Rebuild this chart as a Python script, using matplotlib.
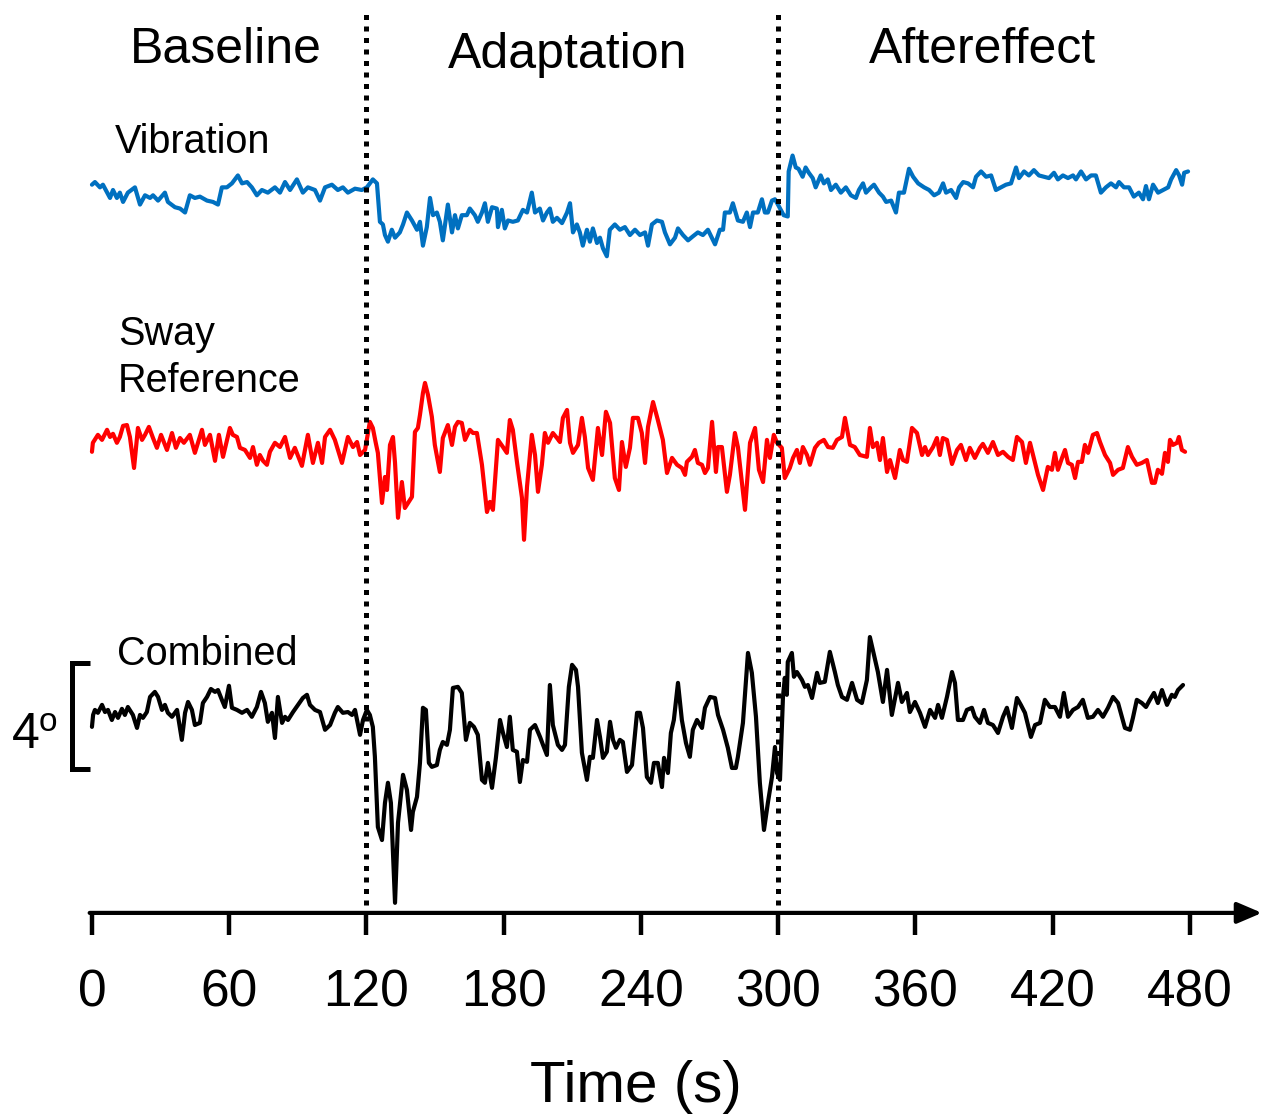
import matplotlib.pyplot as plt
import numpy as np

plt.rcParams['font.family'] = ['Liberation Sans', 'DejaVu Sans']

# sway angle traces, degrees about each trace's own mean, time in seconds
vib_time = [
    0, 1.3, 3.5, 4.8, 7.9, 9.2, 10.9, 12.2, 13.6, 15.7,
    18.8, 21.0, 23.2, 25.4, 26.7, 28.9, 31.9, 33.2, 36.3, 38.5,
    40.7, 42.8, 45.0, 47.2, 50.3, 52.9, 55.1, 56.8, 59.0, 61.2,
    63.8, 65.6, 67.8, 69.9, 72.1, 74.3, 76.9, 80.0, 82.2, 84.4,
    86.6, 89.6, 92.2, 94.4, 97.5, 99.7, 101.9, 104.9, 107.5, 109.7,
    111.9, 115.0, 118.0, 120.2, 122.8, 124.6, 125.9, 127.2, 128.1, 129.4,
    131.1, 132.5, 134.6, 136.0, 137.7, 139.9, 142.1, 143.4, 144.7, 146.4,
    147.8, 149.1, 150.8, 152.1, 153.4, 155.6, 157.4, 158.7, 160.0, 161.7,
    163.9, 165.2, 167.4, 168.7, 170.5, 171.8, 173.1, 174.9, 177.0, 177.5,
    179.2, 180.5, 181.9, 184.0, 186.2, 188.4, 190.2, 192.3, 193.7, 195.8,
    197.2, 198.9, 200.2, 201.5, 203.3, 205.5, 207.7, 209.0, 210.3, 212.0,
    213.3, 214.6, 216.4, 217.7, 219.0, 220.8, 222.1, 223.4, 225.1, 226.4,
    228.6, 230.8, 233.0, 235.2, 237.4, 239.6, 241.8, 243.1, 244.8, 247.0,
    249.2, 250.5, 252.7, 254.9, 256.2, 258.4, 260.6, 262.7, 264.9, 267.1,
    269.3, 272.4, 274.5, 275.9, 276.7, 278.9, 280.2, 282.4, 284.6, 286.3,
    287.7, 289.0, 291.1, 292.9, 294.2, 295.5, 297.3, 298.6, 299.9, 302.4,
    304.2, 304.6, 306.3, 307.7, 308.9, 310.7, 312.0, 313.4, 315.1, 316.4,
    318.6, 320.0, 321.7, 323.1, 325.2, 327.4, 329.6, 331.8, 334.0, 335.3,
    337.1, 338.4, 340.6, 341.9, 344.1, 345.8, 347.2, 349.4, 351.5, 352.8,
    355.0, 357.2, 359.0, 361.2, 363.8, 366.0, 368.2, 370.3, 372.1, 373.4,
    375.6, 377.8, 379.1, 380.9, 383.0, 385.2, 386.5, 388.7, 390.9, 393.1,
    395.2, 397.4, 399.6, 401.8, 404.0, 405.3, 407.5, 409.6, 411.8, 414.0,
    416.2, 418.4, 420.6, 422.3, 424.5, 426.7, 428.9, 430.2, 432.4, 434.6,
    436.8, 438.9, 441.1, 443.3, 445.5, 447.7, 449.0, 451.2, 453.4, 455.5,
    457.7, 459.5, 460.8, 462.1, 463.9, 466.1, 468.3, 470.5, 471.8, 474.0,
    475.3, 476.6, 477.5, 479.2]
vib_deg = [
    0.2, 0.3, 0.1, 0.2, -0.3, 0.0, -0.3, -0.1, -0.45, -0.1,
    0.1, -0.55, -0.2, -0.3, -0.2, -0.4, -0.1, -0.45, -0.65, -0.7,
    -0.85, -0.2, -0.3, -0.25, -0.4, -0.45, -0.55, 0.1, 0.1, 0.25,
    0.55, 0.25, 0.3, 0.1, -0.2, 0.0, -0.1, 0.1, -0.1, 0.3,
    0.0, 0.4, -0.1, 0.1, 0.0, -0.4, 0.1, 0.2, 0.0, 0.1,
    -0.1, 0.05, 0.0, 0.1, 0.4, 0.25, -1.2, -1.3, -1.7, -1.95,
    -1.5, -1.8, -1.6, -1.3, -0.85, -1.15, -1.5, -1.2, -2.1, -1.4,
    -0.3, -0.95, -0.85, -1.2, -1.9, -0.55, -1.6, -0.95, -1.45, -0.95,
    -0.95, -0.7, -0.95, -1.2, -0.85, -0.5, -1.2, -0.65, -0.7, -1.4,
    -0.75, -1.45, -1.15, -1.2, -1.15, -0.75, -0.85, -0.1, -0.85, -0.7,
    -1.15, -0.85, -0.7, -1.2, -1.05, -1.25, -0.85, -0.5, -1.6, -1.3,
    -1.6, -2.1, -1.5, -1.95, -1.45, -2.0, -1.8, -2.2, -2.5, -1.5,
    -1.3, -1.5, -1.4, -1.7, -1.5, -1.7, -1.6, -2.1, -1.3, -1.15,
    -1.2, -1.6, -2.05, -1.8, -1.45, -1.7, -1.9, -1.75, -1.6, -1.7,
    -1.5, -2.05, -1.5, -1.5, -0.85, -0.85, -0.5, -1.15, -1.2, -0.85,
    -1.4, -0.85, -0.85, -0.35, -0.85, -0.85, -0.4, -0.35, -0.55, -0.95,
    -1.0, 0.7, 1.3, 0.85, 0.8, 0.5, 0.85, 0.65, 0.45, 0.1,
    0.55, 0.25, 0.4, 0.0, 0.2, -0.1, 0.1, -0.2, -0.3, 0.0,
    0.25, -0.1, 0.1, 0.2, -0.1, -0.25, -0.45, -0.4, -0.85, -0.1,
    -0.1, 0.8, 0.5, 0.25, 0.1, 0.0, -0.2, -0.1, 0.25, -0.1,
    0.0, -0.3, 0.1, 0.3, 0.25, 0.1, 0.5, 0.7, 0.5, 0.55,
    0.0, 0.1, 0.2, 0.25, 0.85, 0.45, 0.7, 0.55, 0.75, 0.55,
    0.5, 0.45, 0.65, 0.4, 0.55, 0.45, 0.55, 0.4, 0.7, 0.4,
    0.55, 0.55, -0.1, 0.1, 0.25, 0.1, 0.3, 0.1, 0.1, -0.25,
    -0.1, -0.35, 0.15, -0.35, 0.2, -0.1, 0.0, 0.1, 0.4, 0.75,
    0.55, 0.2, 0.65, 0.7]

sway_time = [
    0, 0.4, 2.6, 4.4, 6.6, 7.9, 9.2, 10.9, 12.2, 13.6,
    15.3, 16.6, 18.4, 20.1, 21.9, 23.2, 24.9, 26.7, 28.4, 30.2,
    32.8, 35.0, 36.7, 38.5, 40.2, 42.8, 45.0, 48.1, 49.4, 51.6,
    53.8, 55.5, 57.3, 60.3, 61.6, 63.4, 64.7, 66.9, 69.1, 70.4,
    72.1, 73.4, 74.8, 76.5, 77.8, 80.0, 82.2, 84.4, 86.6, 88.7,
    91.8, 94.4, 96.6, 98.8, 100.6, 101.9, 104.1, 106.2, 109.3, 111.9,
    114.1, 115.9, 117.2, 119.4, 121.5, 122.8, 124.0, 125.0,
    126.8, 128.1, 129.0, 130.3, 131.6, 132.5, 133.8, 135.5, 136.8, 138.2,
    139.9, 141.2, 142.5, 143.4, 144.7, 145.6, 146.9, 148.6, 149.9, 152.1,
    153.4, 155.6, 157.4, 158.7, 160.0, 161.7, 163.1, 165.2, 166.6, 168.3,
    170.5, 172.7, 174.0, 175.3, 177.0, 177.5, 179.7, 181.4, 182.7, 184.0,
    185.8, 188.0, 188.9, 190.2, 192.3, 193.7, 195.0, 196.7, 198.0, 199.4,
    201.5, 203.3, 204.6, 205.9, 207.7, 209.0, 210.3, 212.5, 214.2, 215.5,
    216.9, 219.0, 221.2, 223.0, 224.7, 226.5, 228.6, 230.4, 231.7, 233.4,
    235.2, 236.5, 238.7, 240.4, 241.8, 243.1, 245.3, 247.4, 249.6, 251.4,
    253.6, 255.8, 257.9, 259.3, 260.1, 262.3, 263.6, 264.9, 266.7, 268.0,
    269.3, 271.1, 272.8, 273.7, 275.4, 277.6, 278.9, 281.1, 282.4, 285.5,
    287.7, 289.9, 291.6, 293.4, 295.1, 296.4, 298.1, 299.5, 301.6, 302.9,
    305.1, 306.5, 308.2, 309.5, 310.8, 312.6, 313.9, 316.1, 317.8, 320.0,
    321.8, 323.9, 325.7, 327.9, 329.2, 331.4, 333.5, 335.7, 338.8, 340.1,
    341.4, 343.2, 344.5, 345.8, 347.6, 348.9, 351.1, 353.2, 354.6, 356.3,
    358.5, 360.7, 362.9, 364.2, 365.5, 367.7, 369.4, 370.7, 372.0, 373.8,
    376.0, 378.2, 379.9, 382.1, 383.8, 386.0, 388.2, 389.5, 391.7, 393.9,
    396.1, 398.3, 400.5, 402.6, 404.4, 406.6, 408.3, 410.1, 412.3, 413.6,
    415.8, 417.9, 419.7, 421.0, 422.3, 424.1, 425.4, 426.7, 428.4, 429.8,
    431.1, 432.8, 434.1, 435.5, 437.6, 439.4, 440.7, 442.9, 445.1, 446.4,
    448.6, 450.7, 452.9, 454.7, 456.8, 459.0, 461.2, 463.4, 464.7, 466.0,
    467.8, 469.1, 470.4, 471.3, 472.6, 474.4, 475.2, 476.5, 477.9]
sway_deg = [
    -0.26, 0.08, 0.38, 0.19, 0.57, 0.30, 0.42, 0.08, 0.30, 0.72,
    0.75, 0.30, -0.87, 0.64, 0.19, 0.38, 0.68, 0.26, -0.11, 0.38,
    -0.19, 0.45, -0.11, 0.26, 0.08, 0.38, -0.30, 0.57, 0.0, 0.38,
    -0.60, 0.38, -0.45, 0.64, 0.38, 0.30, -0.11, -0.19, -0.49, -0.08,
    -0.75, -0.38, -0.60, -0.75, -0.26, 0.08, -0.08, 0.30, -0.49, -0.11,
    -0.79, 0.38, -0.68, 0.08, -0.68, 0.30, 0.57, 0.19, -0.68, 0.30,
    -0.08, 0.11, -0.38, -0.19, 0.87, 0.64, 0.11, -0.30,
    -2.19, -1.21, -1.70, 0.0, 0.30, -0.68, -2.75, -1.40, -2.38, -2.19,
    -1.96, 0.49, 0.64, 1.13, 1.96, 2.34, 1.89, 1.06, 0.0, -1.02,
    0.26, 0.75, 0.0, 0.68, 0.87, 0.83, 0.19, 0.57, 0.45, 0.45,
    -0.75, -2.53, -2.15, -2.45, -0.38, 0.19, -0.08, -0.30, 0.94, 0.57,
    -0.64, -2.0, -3.58, -1.58, 0.38, -0.38, -1.77, -0.75, 0.45, 0.08,
    0.45, 0.26, 0.11, 1.02, 1.32, 0.08, -0.30, 0.0, 1.02, 0.30,
    -0.87, -1.32, 0.64, -0.38, 1.25, 0.83, -1.25, -1.70, 0.11, -0.83,
    -0.11, 1.02, 1.02, 0.45, -0.68, 0.68, 1.62, 0.94, 0.19, -1.06,
    -0.49, -0.75, -0.87, -1.13, -0.64, -0.45, -0.19, -0.68, -0.75, -1.06,
    -0.87, 0.87, -1.02, -0.08, -0.08, -1.77, -1.13, 0.45, -0.08, -2.45,
    0.08, 0.64, -0.94, -1.40, 0.19, -0.49, 0.38, 0.08, -0.11, -1.25,
    -0.87, -0.49, -0.19, -0.68, -0.08, -0.38, -0.75, -0.11, 0.08, 0.19,
    -0.08, -0.11, 0.19, 0.30, 1.02, 0.0, -0.08, -0.38, -0.45, 0.64,
    -0.08, 0.08, -0.57, 0.26, -1.02, -0.57, -1.25, -0.19, -0.57, -0.64,
    0.64, 0.45, -0.38, -0.08, -0.38, -0.08, 0.26, -0.38, 0.26, 0.19,
    -0.72, -0.19, 0.0, -0.57, -0.11, -0.49, -0.11, 0.04, -0.30, 0.11,
    -0.38, -0.26, -0.45, -0.57, 0.30, 0.11, -0.68, 0.08, -0.68, -1.13,
    -1.70, -0.83, -0.94, -0.30, -0.94, -0.49, -0.19, -0.68, -0.75, -1.25,
    -0.64, -0.64, 0.0, -0.30, 0.38, 0.45, 0.11, -0.38, -0.68, -1.13,
    -0.94, -0.87, -0.08, -0.45, -0.75, -0.68, -0.57, -1.43, -1.43, -0.94,
    -1.09, -0.30, -0.64, 0.19, 0.0, 0.08, 0.30, -0.19, -0.26]

comb_time = [
    0, 0.5, 1.3, 2.6, 4.4, 5.7, 7.0, 8.7, 10.1, 11.4,
    13.1, 14.4, 15.7, 17.9, 19.7, 21.0, 22.3, 24.0, 25.4, 27.5,
    28.9, 30.6, 31.9, 33.2, 35.0, 37.2, 39.3, 40.7, 42.0, 43.7,
    45.0, 47.2, 48.5, 50.3, 52.0, 53.8, 55.1, 56.8, 58.1, 59.9,
    61.2, 63.4, 65.6, 67.8, 69.9, 72.1, 73.9, 75.6, 76.9, 78.7,
    80.0, 81.3, 83.1, 84.4, 85.7, 87.9, 90.1, 92.2, 94.0, 95.3,
    97.5, 99.7, 101.9, 104.1, 106.2, 107.5, 109.7, 111.9, 113.7, 115.0,
    117.2, 118.5, 120.2, 121.5, 122.8, 123.7, 125.0, 126.8, 128.1, 129.4,
    130.7, 132.5, 133.8, 136.0, 137.7, 139.5, 140.3, 142.1, 143.4, 144.7,
    146.0, 147.3, 148.6, 150.8, 152.1, 153.4, 155.2, 156.5, 157.8, 160.0,
    161.7, 163.5, 165.2, 167.0, 168.7, 170.5, 171.8, 173.1, 174.9, 176.6,
    178.4, 179.7, 181.4, 182.7, 184.0, 185.8, 187.1, 188.4, 190.2, 191.5,
    193.7, 195.9, 197.2, 198.9, 200.2, 201.5, 203.7, 205.5, 206.8, 208.5,
    209.9, 211.6, 212.5, 214.2, 216.4, 217.7, 219.0, 220.8, 222.1, 223.4,
    225.1, 226.5, 227.8, 229.1, 230.8, 232.1, 233.9, 236.1, 238.3, 239.6,
    240.9, 242.6, 244.4, 245.7, 247.4, 249.2, 250.1, 251.8, 253.1, 254.4,
    256.2, 257.9, 259.7, 261.4, 262.7, 264.5, 266.7, 268.0, 270.2, 272.4,
    273.7, 275.9, 278.0, 279.8, 281.5, 282.4, 284.6, 286.8, 288.5, 290.3,
    292.0, 293.8, 295.5, 297.3, 298.6, 299.5, 300.8, 302.1, 302.9, 303.8,
    304.2, 306.0, 306.9, 308.2, 310.4, 311.7, 313.0, 314.8, 317.0, 318.2,
    320.4, 322.6, 324.8, 326.1, 327.9, 330.1, 332.3, 334.5, 336.6, 338.8,
    340.1, 341.4, 343.6, 345.8, 347.6, 349.7, 352.4, 354.1, 356.3, 357.6,
    359.8, 362.0, 364.2, 366.4, 368.6, 369.9, 371.6, 373.8, 376.0, 377.3,
    378.6, 380.8, 382.5, 384.7, 386.0, 388.2, 390.0, 391.7, 393.9, 396.1,
    398.3, 400.0, 402.2, 404.4, 406.1, 407.9, 410.5, 412.3, 414.5, 416.6,
    418.8, 421.0, 423.2, 424.9, 426.7, 428.9, 431.1, 433.2, 435.4, 437.6,
    439.8, 442.0, 444.2, 446.4, 448.6, 451.6, 453.8, 455.1, 456.8, 459.0,
    460.8, 462.5, 464.3, 466.0, 467.8, 470.0, 472.1, 473.4, 474.8, 477.0]
comb_deg = [
    -0.64, -0.19, 0.0, -0.11, 0.19, -0.08, 0.0, -0.38, -0.08, -0.30,
    0.04, -0.19, 0.11, -0.19, -0.68, -0.19, -0.30, -0.08, 0.49, 0.68,
    0.49, 0.0, 0.19, -0.11, -0.26, 0.0, -1.13, -0.11, 0.30, 0.0,
    -0.57, -0.49, 0.26, 0.49, 0.79, 0.68, 0.75, 0.38, 0.11, 0.91,
    0.08, 0.0, -0.11, 0.0, -0.26, 0.11, 0.68, 0.26, -0.45, -0.11,
    -1.06, 0.49, -0.49, -0.26, -0.38, -0.08, 0.19, 0.45, 0.57, 0.19,
    0.0, -0.08, -0.75, -0.57, -0.11, 0.11, -0.11, -0.08, -0.19, 0.0,
    -0.94, -0.38, 0.0, -0.19, -0.64, -1.77, -4.42, -4.91, -3.51, -2.75,
    -3.51, -7.28, -4.26, -2.45, -3.02, -4.53, -3.85, -3.28, -2.0, 0.08,
    0.0, -2.0, -2.15, -2.08, -1.51, -1.21, -1.32, -0.75, 0.83, 0.87,
    0.64, -1.13, -0.49, -0.64, -0.94, -2.64, -2.75, -2.0, -2.94, -1.81,
    -0.38, -0.87, -1.40, -0.26, -1.51, -1.58, -2.72, -1.89, -1.96, -0.75,
    -0.57, -1.02, -1.32, -1.70, 0.94, -0.57, -1.32, -1.51, -1.32, 0.87,
    1.70, 1.51, 0.87, -1.62, -2.64, -1.77, -1.81, -0.38, -1.02, -1.81,
    -1.58, -0.45, -1.13, -1.43, -1.13, -1.21, -2.34, -2.08, -0.11, -0.11,
    -0.68, -2.53, -2.75, -2.0, -2.0, -2.91, -1.81, -2.38, -0.87, -0.38,
    1.02, -0.38, -1.25, -1.77, -0.75, -0.38, -0.68, 0.08, 0.49, 0.45,
    -0.19, -0.75, -1.43, -2.19, -2.19, -1.77, -0.49, 2.15, 1.40, -0.26,
    -2.75, -4.53, -3.51, -2.53, -1.40, -2.38, -2.64, 0.49, 1.21, 0.57,
    1.81, 2.15, 1.25, 1.43, 1.13, 0.87, 0.94, 0.45, 1.40, 1.02,
    1.06, 2.19, 1.43, 0.94, 0.49, 0.38, 1.02, 0.38, 0.26, 1.13,
    2.75, 2.26, 1.43, 0.30, 1.51, -0.19, 1.02, 0.30, 0.64, -0.08,
    0.30, -0.11, -0.64, 0.0, -0.30, 0.19, -0.30, 0.49, 1.43, 1.02,
    -0.38, -0.38, 0.0, 0.08, -0.26, -0.49, 0.0, -0.49, -0.57, -0.87,
    -0.26, 0.08, -0.68, 0.45, 0.19, -0.11, -1.02, -0.57, -0.49, 0.38,
    0.11, 0.11, -0.26, 0.64, -0.26, 0.0, 0.11, 0.38, -0.30, -0.26,
    0.0, -0.26, 0.08, 0.49, 0.26, -0.68, -0.75, -0.30, 0.38, 0.26,
    0.11, 0.38, 0.64, 0.26, 0.75, 0.19, 0.57, 0.49, 0.75, 0.94]

phase_edges = [120, 300]
phase_names = ['Baseline', 'Adaptation', 'Aftereffect']
time_ticks = [0, 60, 120, 180, 240, 300, 360, 420, 480]
scale_deg = 4

# layout: one axes over the whole figure, x in s, y in deg (stacked traces)
fig = plt.figure(figsize=(12.72, 11.18), dpi=100)
ax = fig.add_axes([0, 0, 1, 1])
ax.set_xlim(-40.2, 515.9)
ax.set_ylim(-7.74, 34.45)

traces = [
    (vib_time, vib_deg, 27.28, '#0070C0'),
    (sway_time, sway_deg, 17.66, '#FF0000'),
    (comb_time, comb_deg, 7.66, 'black'),
]
for t, d, off, col in traces:
    ax.plot(t, np.array(d) + off, color=col, lw=3.0,
            solid_joinstyle='round', solid_capstyle='round')

for edge in phase_edges:
    ax.plot([edge, edge], [0.3, 34.1], color='black', lw=3.6,
            dashes=(1, 1.3), dash_capstyle='butt')

# time axis with arrow
for s in ['left', 'right', 'top']:
    ax.spines[s].set_visible(False)
ax.spines['bottom'].set_position(('data', 0))
ax.spines['bottom'].set_visible(False)
ax.set_yticks([])
ax.set_xticks(time_ticks)
ax.set_xticklabels([str(v) for v in time_ticks])
ax.tick_params(axis='x', direction='out', length=16, width=3.2, labelsize=37, pad=24)
ax.annotate('', xy=(511.5, 0), xytext=(-1, 0),
            arrowprops=dict(arrowstyle='-|>,head_length=0.75,head_width=0.32',
                            lw=3, color='black', shrinkA=0, shrinkB=0,
                            mutation_scale=20))
ax.text(237.8, -7.13, 'Time (s)', fontsize=42, ha='center', va='baseline')

# phase titles
ax.text(58.4, 32.08, phase_names[0], fontsize=36, ha='center', va='baseline')
ax.text(207.9, 31.9, phase_names[1], fontsize=36, ha='center', va='baseline')
ax.text(389.3, 32.08, phase_names[2], fontsize=36, ha='center', va='baseline')

# trace labels
ax.text(10.1, 28.68, 'Vibration', fontsize=28.5, va='baseline')
ax.text(11.4, 21.43, 'Sway', fontsize=28.5, va='baseline')
ax.text(11.4, 19.66, 'Reference', fontsize=28.5, va='baseline')
ax.text(10.9, 9.36, 'Combined', fontsize=28.5, va='baseline')

# 4 degree scale bar
top = 9.43
ax.plot([-0.9, -8.7, -8.7, -0.9], [top, top, top - scale_deg, top - scale_deg],
        color='black', lw=3.6, solid_joinstyle='miter', solid_capstyle='butt')
ax.text(-35.0, 6.23, '4', fontsize=36, va='baseline')
ax.text(-23.5, 6.85, 'o', fontsize=24, va='baseline')

fig.savefig('out.png', dpi=100)
